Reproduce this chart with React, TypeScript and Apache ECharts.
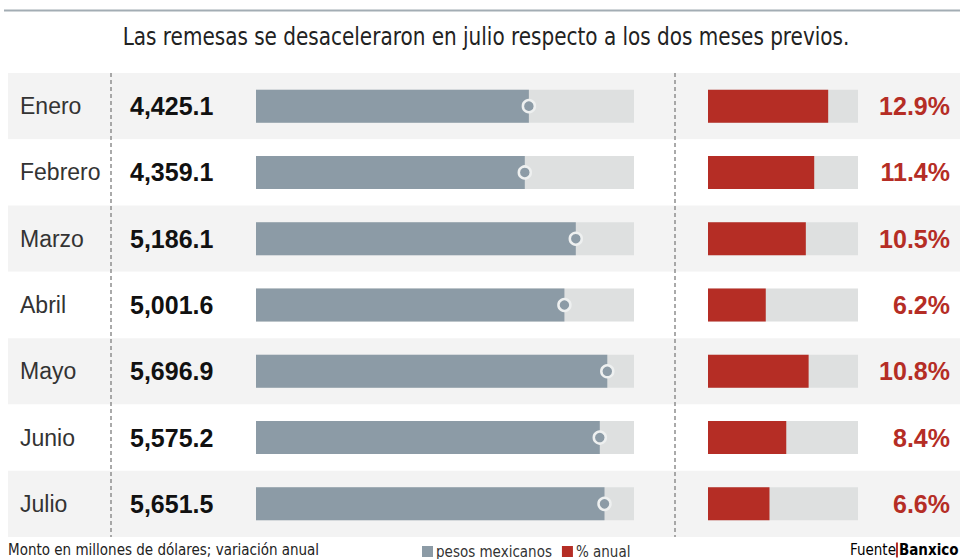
import React, { useEffect, useRef } from 'react';
import * as echarts from 'echarts';

const months = ['Enero', 'Febrero', 'Marzo', 'Abril', 'Mayo', 'Junio', 'Julio'];
const remesas = [4425.1, 4359.1, 5186.1, 5001.6, 5696.9, 5575.2, 5651.5];
const variacion = [12.9, 11.4, 10.5, 6.2, 10.8, 8.4, 6.6];
const remesasMax = 6130;
const variacionMax = 16.1;
const titleText = 'Las remesas se desaceleraron en julio respecto a los dos meses previos.';
const noteText = 'Monto en millones de dólares; variación anual';
const sourceLabel = 'Fuente';
const sourceName = 'Banxico';
const seriesNames = ['pesos mexicanos', '% anual'];

const NARROW = '"DejaVu Sans Condensed", "Liberation Sans Narrow", sans-serif';
const SANS = '"Liberation Sans", "Noto Sans", sans-serif';
const GRAY = '#8c9ba6';
const RED = '#b52d25';
const TRACK = '#dee0e0';

const fmt = (v: number) =>
  v.toLocaleString('en-US', { minimumFractionDigits: 1, maximumFractionDigits: 1 });

export default function App() {
  const ref = useRef<HTMLDivElement>(null);
  useEffect(() => {
    document.body.style.margin = '0';
    const chart = echarts.init(ref.current!, null, { renderer: 'svg' });
    const top = 73;
    const height = 464;
    const hidden = { show: false };
    chart.setOption({
      animation: false,
      backgroundColor: '#ffffff',
      legend: {
        data: seriesNames,
        left: 422,
        top: 544,
        padding: 0,
        icon: 'rect',
        itemWidth: 11,
        itemHeight: 11,
        itemGap: 10,
        textStyle: { fontFamily: NARROW, fontSize: 15, color: '#333', padding: [0, 0, 0, -2] },
      },
      grid: [
        { left: 8, right: 0, top, height },
        { left: 256, width: 378, top, height },
        { left: 708, width: 150, top, height },
      ],
      xAxis: [
        { type: 'value', gridIndex: 0, min: 0, max: 1, show: false },
        { type: 'value', gridIndex: 1, min: 0, max: remesasMax, show: false },
        { type: 'value', gridIndex: 2, min: 0, max: variacionMax, show: false },
      ],
      yAxis: [
        {
          type: 'category',
          gridIndex: 0,
          data: months,
          inverse: true,
          axisLine: hidden,
          axisTick: hidden,
          splitArea: { show: true, areaStyle: { color: ['#f3f3f3', '#ffffff'] } },
          axisLabel: { inside: true, margin: 12, fontFamily: SANS, fontSize: 23, color: '#333' },
        },
        {
          type: 'category',
          gridIndex: 1,
          data: months,
          inverse: true,
          axisLine: hidden,
          axisTick: hidden,
          axisLabel: {
            align: 'left',
            margin: 126,
            formatter: (_v: string, i: number) => fmt(remesas[i]),
            fontFamily: SANS,
            fontWeight: 'bold',
            fontSize: 25,
            color: '#111',
          },
        },
        {
          type: 'category',
          gridIndex: 2,
          position: 'right',
          data: months,
          inverse: true,
          axisLine: hidden,
          axisTick: hidden,
          axisLabel: {
            align: 'right',
            margin: 92,
            formatter: (_v: string, i: number) => variacion[i].toFixed(1) + '%',
            fontFamily: SANS,
            fontWeight: 'bold',
            fontSize: 25,
            color: RED,
          },
        },
      ],
      series: [
        { type: 'bar', xAxisIndex: 0, yAxisIndex: 0, data: months.map(() => 0), silent: true },
        {
          type: 'bar', xAxisIndex: 1, yAxisIndex: 1, data: remesas.map(() => remesasMax),
          barWidth: 33, barGap: '-100%', itemStyle: { color: TRACK }, silent: true, z: 1,
        },
        {
          name: seriesNames[0], type: 'bar', xAxisIndex: 1, yAxisIndex: 1, data: remesas,
          barWidth: 33, barGap: '-100%', itemStyle: { color: GRAY }, z: 2,
        },
        {
          type: 'scatter', xAxisIndex: 1, yAxisIndex: 1, data: remesas, symbolSize: 12,
          itemStyle: { color: GRAY, borderColor: '#eef0f0', borderWidth: 2.5, opacity: 1 }, z: 3,
        },
        {
          type: 'bar', xAxisIndex: 2, yAxisIndex: 2, data: variacion.map(() => variacionMax),
          barWidth: 33, barGap: '-100%', itemStyle: { color: TRACK }, silent: true, z: 1,
        },
        {
          name: seriesNames[1], type: 'bar', xAxisIndex: 2, yAxisIndex: 2, data: variacion,
          barWidth: 33, barGap: '-100%', itemStyle: { color: RED }, z: 2,
        },
      ],
      graphic: [
        { type: 'line', shape: { x1: 4, y1: 10.5, x2: 960, y2: 10.5 }, style: { stroke: '#a3adb4', lineWidth: 2 } },
        {
          type: 'text', x: 486, y: 37, scaleX: 0.89,
          style: {
            text: titleText, fontFamily: NARROW, fontSize: 25, fill: '#222',
            align: 'center', verticalAlign: 'middle',
          },
        },
        {
          type: 'line', z: 50, shape: { x1: 111, y1: top, x2: 111, y2: top + height },
          style: { stroke: '#8f8f8f', lineWidth: 1.5, lineDash: [4, 3] },
        },
        {
          type: 'line', z: 50, shape: { x1: 675, y1: top, x2: 675, y2: top + height },
          style: { stroke: '#8f8f8f', lineWidth: 1.5, lineDash: [4, 3] },
        },
        {
          type: 'text', x: 8, y: 550,
          style: { text: noteText, fontFamily: NARROW, fontSize: 15, fill: '#222', verticalAlign: 'middle' },
        },
        {
          type: 'text', x: 850, y: 550,
          style: {
            text: `{a|${sourceLabel}}{b|}{c|${sourceName}}`,
            verticalAlign: 'middle',
            rich: {
              a: { fontFamily: NARROW, fontSize: 15, color: '#222' },
              b: { width: 2, height: 15, backgroundColor: RED },
              c: { fontFamily: NARROW, fontSize: 15, fontWeight: 'bold', color: '#111', padding: [0, 0, 0, 1] },
            },
          },
        },
      ],
    });
    return () => chart.dispose();
  }, []);
  return <div ref={ref} style={{ width: 960, height: 559 }} />;
}
